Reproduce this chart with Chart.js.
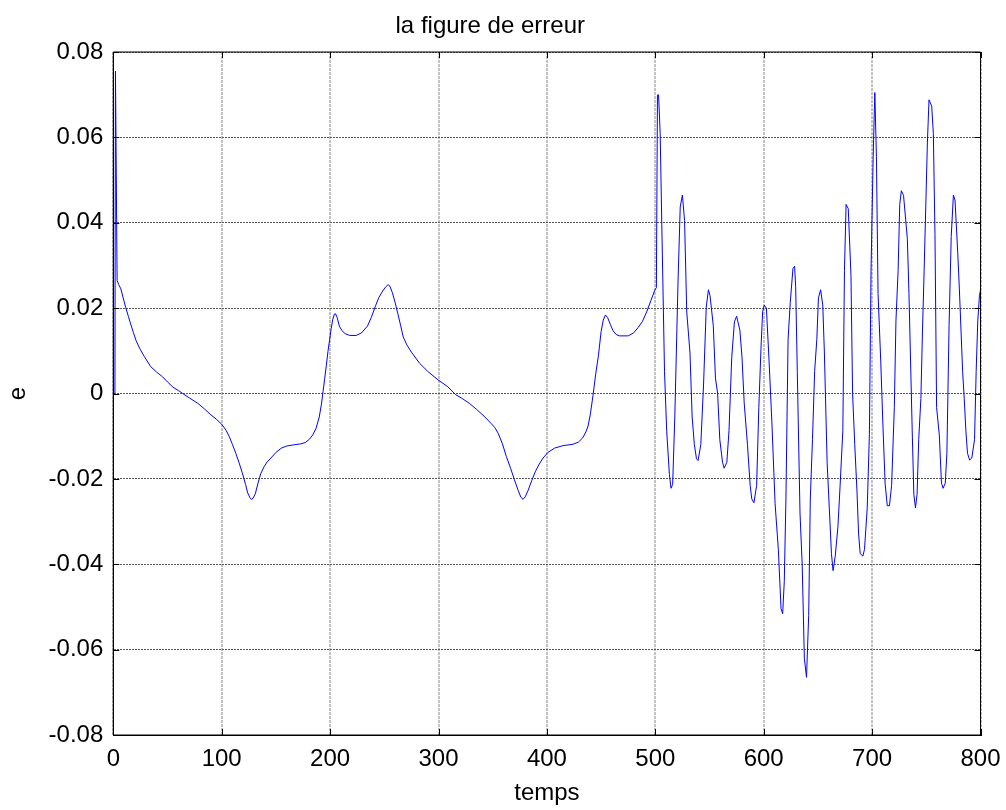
<!DOCTYPE html>
<html>
<head>
<meta charset="utf-8">
<title>la figure de erreur</title>
<script src="https://cdn.jsdelivr.net/npm/chart.js@4.4.1/dist/chart.umd.min.js"></script>
<style>
  html, body { margin: 0; padding: 0; background: #ffffff; }
  #wrap { width: 1006px; height: 810px; }
</style>
</head>
<body>
<div id="wrap"><canvas id="c" width="1006" height="810"></canvas></div>
<script>
// Time axis samples (temps)
const temps = [
  0, 1.5, 2, 3.5, 5, 7, 9, 11.5, 14, 16, 18.5, 21, 24.5, 28.5, 34.5, 40, 45.5, 50, 55, 60,
  64, 70, 78, 84, 90, 95, 100, 104, 107, 110, 113, 116, 119, 122, 124, 126, 127.5, 129, 131, 133.5,
  136, 139, 142, 145.5, 150, 155, 160, 167, 173, 177, 181, 184, 187, 190, 192, 193.5, 195, 196.5, 198, 199.5,
  201, 202.5, 204, 205, 206.5, 208.5, 211, 214, 218, 224, 229, 234.5, 238, 242, 245, 248.5, 251, 253.5, 255, 257.5,
  260, 262.5, 265, 267.5, 271, 275, 282.5, 290, 299.5, 308.5, 316, 322, 328.5, 335, 342, 348.5, 352, 355, 359, 362.5,
  366.5, 370, 373.5, 376, 378, 380, 382.5, 386, 389.5, 393, 396.5, 401, 407, 415, 424, 429, 433, 436, 438, 440,
  442.5, 445, 447.5, 450, 452, 454, 456, 458.5, 461, 464, 467, 475, 480, 484, 488, 492, 496, 499.5, 501, 502,
  503, 504.5, 506, 508.5, 510.5, 513, 514.5, 516, 518, 521, 523, 525, 527, 529, 532, 534, 536, 538, 539.5, 542,
  544.5, 547, 549, 550.5, 553.5, 555.5, 557.5, 559.5, 562, 563.5, 566, 568, 570.5, 573, 575, 578, 580, 582, 585, 587.5,
  589, 591, 593.5, 595.5, 597.5, 599, 600.5, 602.5, 605, 607.5, 610.5, 613.5, 616, 617.5, 619, 620.5, 622.5, 624.5, 627, 628.5,
  629.5, 631, 633.5, 635.5, 637.5, 639.5, 641.5, 643, 645, 647, 649, 650.5, 652.5, 654.5, 656, 658.5, 660.5, 662.5, 664, 666,
  668.5, 670.5, 673, 674.5, 676, 678, 680.5, 682, 684, 686, 687.5, 689, 691.5, 693, 695.5, 697.5, 699, 701, 702.5, 704,
  705.5, 708, 710, 712, 714, 716, 718, 720.5, 722, 724, 725.5, 727, 729, 732.5, 734, 735.5, 737, 738.5, 740, 741.5,
  743, 745, 746.5, 748, 749.5, 751, 752.5, 755, 756.5, 758, 759.5, 762, 764, 765.5, 767.5, 769, 771, 773, 775, 776.5,
  779, 780.5, 782, 783.5, 785, 786.5, 788, 790, 792, 794.5, 796, 797.5, 799, 800
];

// Error signal e(t)
const erreur = [
  0, 0, 0.0755, 0.0265, 0.0255, 0.0245, 0.0225, 0.0201, 0.018, 0.0163, 0.0143, 0.0124, 0.0105, 0.0087, 0.0063, 0.005, 0.0039, 0.0027, 0.0015, 0.0007,
  0, -0.001, -0.0023, -0.0036, -0.005, -0.006, -0.0072, -0.0086, -0.0101, -0.012, -0.014, -0.0162, -0.0186, -0.0213, -0.0233, -0.0244, -0.0248, -0.0245, -0.0235, -0.021,
  -0.0188, -0.0172, -0.016, -0.0151, -0.0138, -0.0128, -0.0123, -0.012, -0.0118, -0.0115, -0.0107, -0.0097, -0.0082, -0.0055, -0.0025, 0.0005, 0.0035, 0.0065, 0.0098, 0.0125,
  0.0152, 0.0174, 0.0186, 0.0187, 0.0178, 0.0158, 0.0147, 0.014, 0.0136, 0.0136, 0.0142, 0.0158, 0.0178, 0.0206, 0.0225, 0.024, 0.0249, 0.0255, 0.0252, 0.0236,
  0.0213, 0.0187, 0.016, 0.0132, 0.0113, 0.0097, 0.0071, 0.0052, 0.0032, 0.0016, -0.0003, -0.0012, -0.0023, -0.0037, -0.0053, -0.007, -0.008, -0.0093, -0.0118, -0.0147,
  -0.0175, -0.0202, -0.0227, -0.0243, -0.0248, -0.0242, -0.0228, -0.0204, -0.0182, -0.0165, -0.0151, -0.0138, -0.0128, -0.0122, -0.0119, -0.0114, -0.0104, -0.009, -0.0076, -0.005,
  -0.0005, 0.0045, 0.0088, 0.0145, 0.0172, 0.0184, 0.0178, 0.0162, 0.0147, 0.0138, 0.0135, 0.0135, 0.0142, 0.0154, 0.0168, 0.0191, 0.0218, 0.0242, 0.0248, 0.0699,
  0.07, 0.0609, 0.0395, 0.0052, -0.0087, -0.019, -0.0222, -0.0213, -0.0055, 0.0266, 0.0437, 0.0465, 0.0405, 0.0191, 0.0095, -0.0055, -0.0119, -0.0153, -0.0157, -0.0119,
  0.002, 0.0202, 0.0243, 0.0229, 0.0159, 0.0036, 0, -0.0108, -0.0161, -0.0175, -0.0161, -0.0087, 0.0084, 0.0168, 0.0181, 0.0149, 0.0084, -0.0022, -0.0119, -0.0215,
  -0.0247, -0.0256, -0.0215, -0.0033, 0.0106, 0.0191, 0.0207, 0.02, 0.0074, -0.0065, -0.0258, -0.0365, -0.0504, -0.0516, -0.044, -0.0247, 0.0127, 0.0213, 0.0293, 0.0298,
  0.025, 0.005, -0.028, -0.04, -0.062, -0.0665, -0.052, -0.0247, -0.0108, 0.0052, 0.0127, 0.0224, 0.0243, 0.0207, 0.0095, -0.0161, -0.0268, -0.0375, -0.0415, -0.0381,
  -0.0311, -0.0215, -0.0087, 0.0288, 0.0443, 0.0433, 0.0277, 0, -0.012, -0.0226, -0.0327, -0.0375, -0.0381, -0.0365, -0.0268, -0.0097, 0.0288, 0.0555, 0.0705, 0.0555,
  0.0234, 0.0074, -0.0076, -0.021, -0.0263, -0.0263, -0.0215, -0.0033, 0.017, 0.0288, 0.0443, 0.0475, 0.0464, 0.0363, 0.0234, 0.0074, -0.0087, -0.0236, -0.0268, -0.0236,
  -0.0108, -0.0012, 0.0149, 0.0288, 0.0437, 0.0587, 0.0688, 0.0673, 0.0609, 0.0373, -0.0033, -0.0097, -0.021, -0.0222, -0.021, -0.014, 0.0159, 0.0368, 0.0465, 0.0453,
  0.033, 0.0245, 0.0149, 0.0052, -0.0012, -0.0087, -0.014, -0.0156, -0.0151, -0.0108, 0.0052, 0.017, 0.0229, 0.0242
];

// Axis ticks
const xTicks = [0, 100, 200, 300, 400, 500, 600, 700, 800];
const yTicks = [-0.08, -0.06, -0.04, -0.02, 0, 0.02, 0.04, 0.06, 0.08];

const FONT = "'Liberation Sans', Arial, Helvetica, sans-serif";

// Box around the axes with inward tick marks on all four sides
const frameTicks = {
  id: 'frameTicks',
  afterDraw(chart) {
    const { ctx, chartArea: a, scales } = chart;
    const len = 6;
    ctx.save();
    ctx.strokeStyle = '#000000';
    ctx.lineWidth = 1;
    ctx.setLineDash([]);
    ctx.beginPath();
    ctx.rect(a.left, a.top, a.right - a.left, a.bottom - a.top);
    ctx.stroke();
    ctx.beginPath();
    xTicks.forEach(v => {
      const x = Math.round(scales.x.getPixelForValue(v)) + 0.5;
      ctx.moveTo(x, a.bottom); ctx.lineTo(x, a.bottom - len);
      ctx.moveTo(x, a.top); ctx.lineTo(x, a.top + len);
    });
    yTicks.forEach(v => {
      const y = Math.round(scales.y.getPixelForValue(v)) + 0.5;
      ctx.moveTo(a.left, y); ctx.lineTo(a.left + len, y);
      ctx.moveTo(a.right, y); ctx.lineTo(a.right - len, y);
    });
    ctx.stroke();
    ctx.restore();
  }
};

const points = temps.map((t, i) => ({ x: t, y: erreur[i] }));

new Chart(document.getElementById('c'), {
  type: 'line',
  data: {
    datasets: [{
      data: points,
      borderColor: '#0000ff',
      borderWidth: 1,
      pointRadius: 0,
      tension: 0,
      fill: false
    }]
  },
  options: {
    responsive: false,
    animation: false,
    events: [],
    layout: { padding: { left: 0, right: 25.5, top: 0, bottom: 0 } },
    plugins: {
      legend: { display: false },
      tooltip: { enabled: false },
      title: {
        display: true,
        text: 'la figure de erreur',
        color: '#000000',
        font: { family: FONT, size: 24, weight: 'normal', lineHeight: 1.2 },
        padding: { top: 11.6, bottom: 11.6 }
      }
    },
    scales: {
      x: {
        type: 'linear',
        min: 0,
        max: 800,
        afterBuildTicks(scale) { scale.ticks = xTicks.map(v => ({ value: v })); },
        afterFit(scale) {
          scale.height = 75;
          scale.paddingLeft = 0;
          scale.paddingRight = 0;
        },
        ticks: {
          color: '#000000',
          font: { family: FONT, size: 24 },
          padding: 10,
          maxRotation: 0,
          autoSkip: false
        },
        grid: {
          color: '#c2c2c2',
          lineWidth: 2,
          drawTicks: false
        },
        // dotted grid lines
        border: { display: true, color: '#000000', width: 1, dash: [3, 1] },
        title: {
          display: true,
          text: 'temps',
          color: '#000000',
          font: { family: FONT, size: 24, lineHeight: 1.2 },
          padding: { top: 0, bottom: 2 }
        }
      },
      y: {
        type: 'linear',
        min: -0.08,
        max: 0.08,
        afterBuildTicks(scale) { scale.ticks = yTicks.map(v => ({ value: v })); },
        afterFit(scale) {
          scale.width = 113.3;
          scale.paddingTop = 0;
          scale.paddingBottom = 0;
        },
        ticks: {
          color: '#000000',
          font: { family: FONT, size: 24 },
          padding: 10,
          callback(v) { return Math.abs(v) < 1e-9 ? '0' : (+v).toFixed(2); }
        },
        grid: {
          color: '#5a5a5a',
          lineWidth: 1,
          drawTicks: false
        },
        border: { display: true, color: '#000000', width: 1, dash: [2, 1] },
        title: {
          display: true,
          text: 'e',
          color: '#000000',
          font: { family: FONT, size: 24, lineHeight: 1.2 },
          padding: { top: 4, bottom: 0 }
        }
      }
    }
  },
  plugins: [frameTicks]
});
</script>
</body>
</html>
